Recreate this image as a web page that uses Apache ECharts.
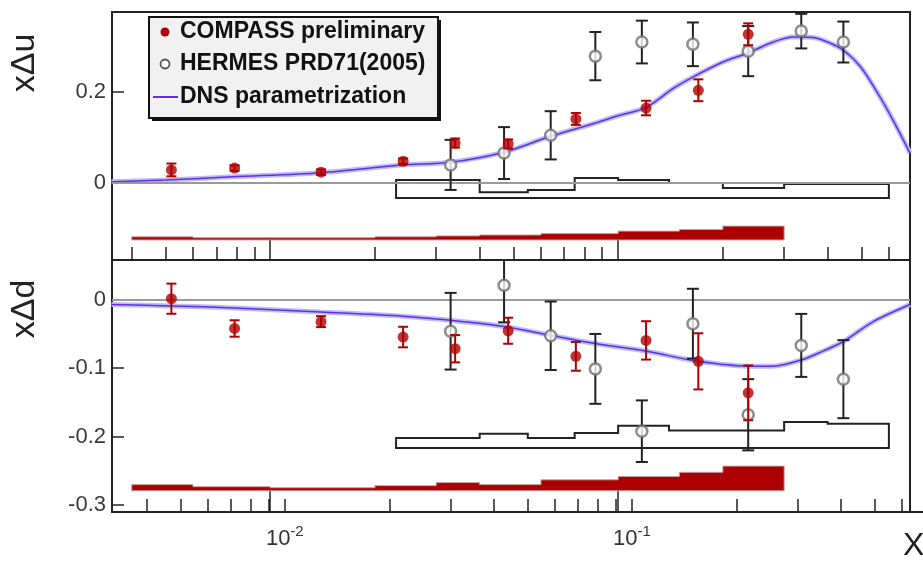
<!DOCTYPE html>
<html>
<head>
<meta charset="UTF-8" />
<title>xΔu / xΔd</title>
<script src="https://cdn.jsdelivr.net/npm/echarts@6/dist/echarts.min.js"></script>
<style>
  html, body { margin: 0; padding: 0; background: #fff; }
  #main { width: 923px; height: 562px; }
</style>
</head>
<body>
<div id="main"></div>
<script>
// x range (log) shared by both panels
var xMin = 0.00351, xMax = 0.69;
var logTicks = [0.004, 0.005, 0.006, 0.007, 0.008, 0.009, 0.01, 0.02, 0.03, 0.04, 0.05, 0.06,
  0.07, 0.08, 0.09, 0.1, 0.2, 0.3, 0.4, 0.5, 0.6];
var decadeTicks = [0.01, 0.1];
var uTicks = [0, 0.2];
var dTicks = [-0.3, -0.2, -0.1, 0];

// COMPASS preliminary
var compassX = [0.0052, 0.0079, 0.014, 0.0241, 0.034, 0.0483, 0.0756, 0.1203, 0.170, 0.2365];
var compassU = [0.029, 0.033, 0.024, 0.048, 0.088, 0.086, 0.141, 0.165, 0.204, 0.327];
var compassUErr = [0.014, 0.006, 0.006, 0.006, 0.01, 0.01, 0.013, 0.016, 0.024, 0.024];
var compassD = [0.0015, -0.042, -0.032, -0.0545, -0.0715, -0.0453, -0.0827, -0.0594, -0.090, -0.136];
var compassDErr = [0.022, 0.012, 0.008, 0.015, 0.02, 0.019, 0.021, 0.028, 0.041, 0.04];

// HERMES PRD71(2005)
var hermesX = [0.033, 0.047, 0.064, 0.086, 0.117, 0.164, 0.2365, 0.336, 0.444];
var hermesU = [0.040, 0.066, 0.105, 0.279, 0.310, 0.305, 0.290, 0.334, 0.310];
var hermesUErr = [0.055, 0.057, 0.053, 0.053, 0.047, 0.048, 0.055, 0.038, 0.045];
var hermesD = [-0.046, 0.021, -0.0526, -0.101, -0.192, -0.035, -0.168, -0.0667, -0.116];
var hermesDErr = [0.056, 0.054, 0.05, 0.051, 0.045, 0.051, 0.052, 0.046, 0.057];

// DNS parametrization
var dnsUX = [0.0035, 0.005, 0.0078, 0.014, 0.024, 0.033, 0.047, 0.064, 0.086, 0.1, 0.12, 0.144,
  0.164, 0.2, 0.236, 0.279, 0.318, 0.363, 0.4, 0.444, 0.498, 0.566, 0.617, 0.69];
var dnsU = [0.003, 0.0066, 0.014, 0.023, 0.040, 0.046, 0.068, 0.103, 0.132, 0.148, 0.166, 0.208,
  0.233, 0.266, 0.286, 0.31, 0.321, 0.32, 0.31, 0.292, 0.255, 0.189, 0.138, 0.066];
var dnsDX = [0.0035, 0.0052, 0.0079, 0.014, 0.024, 0.033, 0.047, 0.064, 0.086, 0.12, 0.17, 0.236,
  0.279, 0.336, 0.388, 0.444, 0.541, 0.69];
var dnsD = [-0.007, -0.009, -0.012, -0.018, -0.024, -0.030, -0.039, -0.052, -0.064, -0.075, -0.090,
  -0.097, -0.097, -0.088, -0.075, -0.061, -0.032, -0.007];

// systematic error bands (bin edges, band top per bin, band bottom)
var compassEdges = [0.004, 0.006, 0.01, 0.02, 0.03, 0.04, 0.06, 0.1, 0.15, 0.2, 0.3];
var compassSystU = [-0.118, -0.120, -0.120, -0.118, -0.116, -0.114, -0.111, -0.1055, -0.102, -0.0945];
var compassSystUBase = -0.125;
var compassSystD = [-0.270, -0.273, -0.2745, -0.2715, -0.267, -0.270, -0.263, -0.258, -0.252, -0.243];
var compassSystDBase = -0.279;
var hermesEdges = [0.023, 0.04, 0.055, 0.075, 0.1, 0.14, 0.2, 0.3, 0.4, 0.6];
var hermesSystU = [0.0066, -0.020, -0.015, 0.011, 0.0066, 0.0, -0.011, -0.002, -0.002];
var hermesSystUBase = -0.033;
var hermesSystD = [-0.202, -0.1956, -0.202, -0.1946, -0.184, -0.191, -0.191, -0.1785, -0.181];
var hermesSystDBase = -0.2165;

var FONT = '"Liberation Sans", Arial, sans-serif';
var RED = '#b00000';
var INK = '#222';

function zip(xs, ys) {
  return xs.map(function (x, i) { return [x, ys[i]]; });
}
function errData(xs, ys, es) {
  return xs.map(function (x, i) { return [x, ys[i] - es[i], ys[i] + es[i]]; });
}

// vertical error bar with caps
function errBar(color, cap) {
  return function (params, api) {
    var lo = api.coord([api.value(0), api.value(1)]);
    var hi = api.coord([api.value(0), api.value(2)]);
    var st = { stroke: color, lineWidth: 2 };
    return {
      type: 'group',
      children: [
        { type: 'line', shape: { x1: lo[0], y1: lo[1], x2: hi[0], y2: hi[1] }, style: st },
        { type: 'line', shape: { x1: lo[0] - cap, y1: lo[1], x2: lo[0] + cap, y2: lo[1] }, style: st },
        { type: 'line', shape: { x1: hi[0] - cap, y1: hi[1], x2: hi[0] + cap, y2: hi[1] }, style: st }
      ]
    };
  };
}

// step-shaped band as one polygon
function stepBand(edges, tops, base, style) {
  return function (params, api) {
    var pts = [];
    for (var i = 0; i < tops.length; i++) {
      pts.push(api.coord([edges[i], tops[i]]));
      pts.push(api.coord([edges[i + 1], tops[i]]));
    }
    pts.push(api.coord([edges[edges.length - 1], base]));
    pts.push(api.coord([edges[0], base]));
    return { type: 'polygon', shape: { points: pts }, style: style };
  };
}

function logX(grid, ticks, len, extra) {
  var ax = {
    type: 'log', logBase: 10, gridIndex: grid, min: xMin, max: xMax, position: 'bottom',
    axisLine: { show: false, onZero: false },
    axisTick: { show: true, inside: true, length: len, customValues: ticks,
      lineStyle: { color: INK, width: 1.5 } },
    axisLabel: { show: false },
    splitLine: { show: false }
  };
  return Object.assign(ax, extra || {});
}

function valY(grid, min, max, ticks) {
  return {
    type: 'value', gridIndex: grid, min: min, max: max,
    axisLine: { show: false, onZero: false },
    axisTick: { show: true, inside: true, length: 12, customValues: ticks,
      lineStyle: { color: INK, width: 1.5 } },
    axisLabel: { show: true, customValues: ticks, margin: 6, fontFamily: FONT, fontSize: 22,
      color: '#3a3a3a' },
    splitLine: { show: false }
  };
}

function panelSeries(xi, yi, d) {
  return [
    { // zero line
      type: 'line', xAxisIndex: xi, yAxisIndex: yi, data: [], z: 1,
      markLine: { silent: true, symbol: 'none', label: { show: false },
        lineStyle: { color: '#9a9a9a', width: 2, type: 'solid' }, data: [{ yAxis: 0 }] }
    },
    {
      type: 'custom', xAxisIndex: xi, yAxisIndex: yi, z: 2, clip: true,
      data: [[d.cEdges[0], d.cBase]],
      renderItem: stepBand(d.cEdges, d.cTop, d.cBase, { fill: '#ad0000', stroke: '#c8a0a0', lineWidth: 1 })
    },
    {
      type: 'custom', xAxisIndex: xi, yAxisIndex: yi, z: 2, clip: true,
      data: [[d.hEdges[0], d.hBase]],
      renderItem: stepBand(d.hEdges, d.hTop, d.hBase, { fill: 'none', stroke: INK, lineWidth: 2 })
    },
    {
      type: 'line', xAxisIndex: xi, yAxisIndex: yi, z: 3, data: zip(d.lx, d.ly),
      showSymbol: false, smooth: 0.3, lineStyle: { color: '#b9bff4', width: 5 }
    },
    {
      type: 'line', xAxisIndex: xi, yAxisIndex: yi, z: 4, data: zip(d.lx, d.ly),
      showSymbol: false, smooth: 0.3, lineStyle: { color: '#6a2be8', width: 1.5 }
    },
    {
      type: 'custom', xAxisIndex: xi, yAxisIndex: yi, z: 5, clip: true,
      encode: { x: 0, y: [1, 2] },
      data: errData(hermesX, d.hy, d.he), renderItem: errBar(INK, 6)
    },
    {
      type: 'scatter', xAxisIndex: xi, yAxisIndex: yi, z: 6, data: zip(hermesX, d.hy),
      symbol: 'circle', symbolSize: 11,
      itemStyle: { color: '#fff', borderColor: '#707070', borderWidth: 2.5 }
    },
    {
      type: 'custom', xAxisIndex: xi, yAxisIndex: yi, z: 7, clip: true,
      encode: { x: 0, y: [1, 2] },
      data: errData(compassX, d.cy, d.ce), renderItem: errBar(RED, 5)
    },
    {
      type: 'scatter', xAxisIndex: xi, yAxisIndex: yi, z: 8, data: zip(compassX, d.cy),
      symbol: 'circle', symbolSize: 11, itemStyle: { color: RED }
    }
  ];
}

var series = [].concat(
  panelSeries(0, 0, {
    cEdges: compassEdges, cTop: compassSystU, cBase: compassSystUBase,
    hEdges: hermesEdges, hTop: hermesSystU, hBase: hermesSystUBase,
    lx: dnsUX, ly: dnsU, hy: hermesU, he: hermesUErr, cy: compassU, ce: compassUErr
  }),
  panelSeries(2, 1, {
    cEdges: compassEdges, cTop: compassSystD, cBase: compassSystDBase,
    hEdges: hermesEdges, hTop: hermesSystD, hBase: hermesSystDBase,
    lx: dnsDX, ly: dnsD, hy: hermesD, he: hermesDErr, cy: compassD, ce: compassDErr
  })
);

var legendItems = [
  { y: 32, text: 'COMPASS preliminary' },
  { y: 64, text: 'HERMES PRD71(2005)' },
  { y: 97, text: 'DNS parametrization' }
];
var graphic = [
  { type: 'rect', left: 152, top: 20, shape: { width: 289, height: 101 }, style: { fill: '#111' }, z: 50 },
  { type: 'rect', left: 148, top: 16, shape: { width: 289, height: 101 },
    style: { fill: '#f1f1f1', stroke: '#111', lineWidth: 2 }, z: 51 },
  { type: 'circle', shape: { cx: 165, cy: 32, r: 4.5 }, style: { fill: RED }, z: 52 },
  { type: 'circle', shape: { cx: 165, cy: 64, r: 4.5 }, style: { fill: '#fff', stroke: '#555', lineWidth: 1.8 }, z: 52 },
  { type: 'line', shape: { x1: 153, y1: 97, x2: 178, y2: 97 }, style: { stroke: '#6a2be8', lineWidth: 2 }, z: 52 },
  { type: 'text', x: 25, y: 63, rotation: Math.PI / 2, z: 52,
    style: { text: 'xΔu', font: '34px ' + FONT, fill: INK, align: 'center', verticalAlign: 'middle' } },
  { type: 'text', x: 25, y: 309, rotation: Math.PI / 2, z: 52,
    style: { text: 'xΔd', font: '34px ' + FONT, fill: INK, align: 'center', verticalAlign: 'middle' } },
  { type: 'text', x: 903, y: 530, z: 52,
    style: { text: 'X', font: '32px ' + FONT, fill: INK, align: 'left', verticalAlign: 'top' } }
];
legendItems.forEach(function (it) {
  graphic.push({ type: 'text', x: 180, y: it.y, z: 52,
    style: { text: it.text, font: 'bold 23px ' + FONT, fill: '#111', verticalAlign: 'middle' } });
});

var option = {
  animation: false,
  backgroundColor: '#fff',
  grid: [
    { left: 112, top: 12, width: 798, height: 248, show: true, borderColor: INK, borderWidth: 2 },
    { left: 112, top: 260, width: 798, height: 252, show: true, borderColor: INK, borderWidth: 2 },
    { left: 127, top: 260, width: 796, height: 252 }
  ],
  xAxis: [
    logX(0, logTicks, 13),
    logX(0, decadeTicks, 22),
    logX(1, decadeTicks, 22),
    logX(2, logTicks, 13, {
      axisLine: { show: true, onZero: false, lineStyle: { color: INK, width: 2 } },
      axisLabel: {
        show: true, customValues: decadeTicks, margin: 12, fontFamily: FONT, fontSize: 22,
        color: '#333',
        formatter: function (v) {
          return '{b|10}{s|' + Math.round(Math.log(v) / Math.LN10) + '}';
        },
        rich: {
          b: { fontFamily: FONT, fontSize: 22, lineHeight: 26, verticalAlign: 'bottom', color: '#333' },
          s: { fontFamily: FONT, fontSize: 15, lineHeight: 15, verticalAlign: 'top', color: '#333' }
        }
      }
    })
  ],
  yAxis: [
    valY(0, -0.169, 0.376, uTicks),
    valY(1, -0.31, 0.058, dTicks),
    { type: 'value', gridIndex: 2, min: 0, max: 1, show: false }
  ],
  graphic: graphic,
  series: series
};

var chart = echarts.init(document.getElementById('main'));
chart.setOption(option);
window.addEventListener('resize', function () { chart.resize(); });
</script>
</body>
</html>
